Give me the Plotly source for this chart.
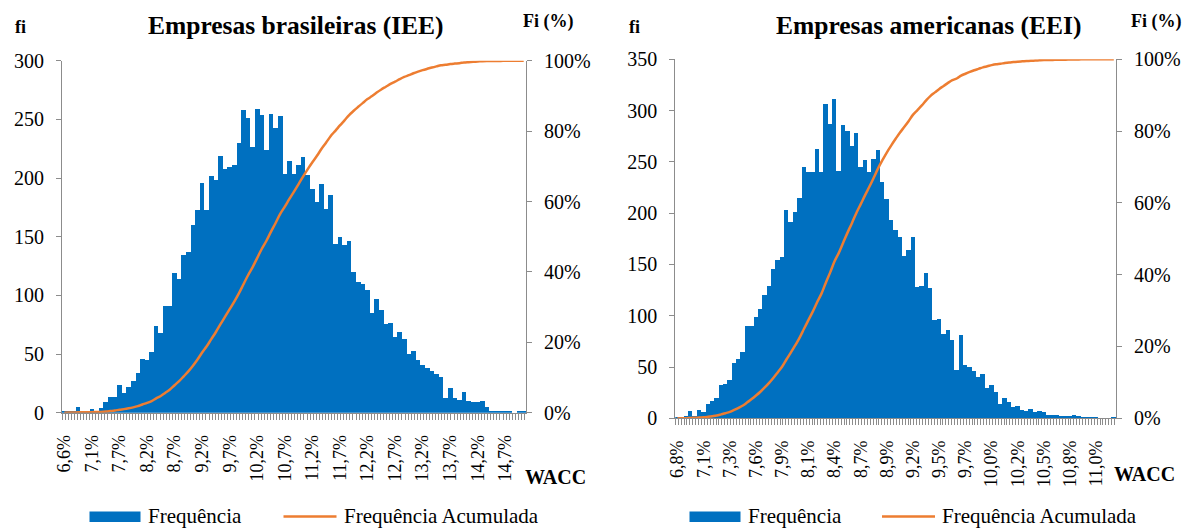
import numpy as np
import plotly.graph_objects as go

# rótulos do eixo x (um a cada 6 classes)
ticks_br = ["6,6%", "7,1%", "7,7%", "8,2%", "8,7%", "9,2%", "9,7%", "10,2%", "10,7%",
            "11,2%", "11,7%", "12,2%", "12,7%", "13,2%", "13,7%", "14,2%", "14,7%"]
ticks_us = ["6,8%", "7,1%", "7,3%", "7,6%", "7,9%", "8,1%", "8,4%", "8,7%", "8,9%",
            "9,2%", "9,5%", "9,7%", "10,0%", "10,2%", "10,5%", "10,8%", "11,0%"]

# frequências por classe
freq_br = [1, 2, 2, 5, 1, 2, 3, 2, 4, 9, 14, 14, 24, 17, 22, 27, 34, 46, 45, 52,
           74, 68, 91, 91, 119, 114, 135, 137, 160, 173, 196, 173, 202, 199, 219, 208, 210, 211, 230, 258,
           251, 227, 259, 254, 224, 255, 243, 253, 204, 215, 204, 211, 218, 203, 191, 180, 195, 174, 186, 144,
           150, 143, 147, 120, 112, 110, 105, 85, 97, 88, 76, 77, 65, 69, 63, 50, 53, 45, 41, 38,
           36, 33, 31, 13, 21, 13, 11, 18, 10, 9, 9, 10, 5, 1, 1, 1, 2, 1, 0, 1, 1]
freq_us = [1, 1, 2, 7, 2, 8, 6, 14, 17, 20, 32, 33, 37, 54, 58, 64, 90, 90, 99, 106,
           120, 129, 145, 154, 157, 203, 191, 201, 215, 245, 240, 240, 262, 240, 306, 287, 311, 241, 286, 280,
           265, 278, 245, 252, 240, 253, 261, 230, 214, 193, 183, 177, 158, 164, 177, 128, 129, 141, 127, 96,
           97, 82, 86, 76, 47, 81, 52, 50, 46, 40, 43, 29, 32, 25, 14, 20, 16, 11, 12, 8,
           7, 9, 6, 7, 6, 3, 3, 3, 2, 2, 2, 3, 2, 1, 1, 1, 1, 0, 0, 0, 1]

BLUE = "#0070C0"
ORANGE = "#ED7D31"
GRAY = "#8C8C8C"
FONT = "Liberation Serif, Times New Roman, serif"
W, H = 1201, 529


def px(x):
    return x / W


def py(y):
    return 1 - y / H


fig = go.Figure()

for freq, xa, ya, ya2 in [(freq_br, "x", "y", "y2"), (freq_us, "x2", "y3", "y4")]:
    idx = np.arange(len(freq))
    cum = np.cumsum(freq) / np.sum(freq)
    fig.add_trace(go.Bar(x=idx, y=freq, marker=dict(color=BLUE, line=dict(width=0)),
                         xaxis=xa, yaxis=ya, showlegend=False))
    fig.add_trace(go.Scatter(x=idx, y=cum, mode="lines", line=dict(color=ORANGE, width=2.5, shape="spline"),
                             xaxis=xa, yaxis=ya2, showlegend=False))


def xaxis_cfg(dom, ticktext, anchor):
    n = len(ticktext)
    return dict(domain=dom, anchor=anchor, range=[-0.5, 100.5], automargin=False,
                tickmode="array", tickvals=[6 * i for i in range(n)], ticktext=ticktext,
                tickangle=-90, ticks="", ticklabelstandoff=14,
                tickfont=dict(family=FONT, size=18, color="black"),
                minor=dict(ticks="outside", ticklen=6, tickcolor=GRAY, tickmode="linear",
                           tick0=-0.5, dtick=2 / 3, showgrid=False),
                showline=True, linecolor=GRAY, linewidth=1, showgrid=False, zeroline=False)


def yaxis_cfg(dom, rng, dtick, anchor, side="left", pct=False, overlay=None):
    d = dict(domain=dom, anchor=anchor, range=rng, dtick=dtick, side=side, automargin=False,
             ticks="outside", ticklen=5, tickcolor=GRAY, ticklabelstandoff=8,
             tickfont=dict(family=FONT, size=20, color="black"),
             showline=True, linecolor=GRAY, linewidth=1, showgrid=False, zeroline=False)
    if pct:
        d["tickformat"] = ".0%"
    if overlay:
        d["overlaying"] = overlay
    return d


dom1x = [px(62), px(526)]
dom1y = [py(412.7), py(60.7)]
dom2x = [px(675.3), px(1116)]
dom2y = [py(418.3), py(59.2)]

fig.update_layout(
    width=W, height=H,
    margin=dict(l=0, r=0, t=0, b=0, pad=0, autoexpand=False),
    paper_bgcolor="white", plot_bgcolor="white",
    bargap=0,
    font=dict(family=FONT, color="black"),
    xaxis=xaxis_cfg(dom1x, ticks_br, "y"),
    yaxis=yaxis_cfg(dom1y, [0, 300], 50, "x"),
    yaxis2=yaxis_cfg(dom1y, [0, 1], 0.2, "x", side="right", pct=True, overlay="y"),
    xaxis2=xaxis_cfg(dom2x, ticks_us, "y3"),
    yaxis3=yaxis_cfg(dom2y, [0, 350], 50, "x2"),
    yaxis4=yaxis_cfg(dom2y, [0, 1], 0.2, "x2", side="right", pct=True, overlay="y3"),
)

ann = []


def text(x, y, s, size, bold=False, xanchor="center"):
    ann.append(dict(x=px(x), y=py(y), xref="paper", yref="paper", text=f"<b>{s}</b>" if bold else s,
                    showarrow=False, xanchor=xanchor, yanchor="middle",
                    font=dict(family=FONT, size=size, color="black")))


text(295.5, 25, "Empresas brasileiras (IEE)", 25.5, True)
text(928.5, 25, "Empresas americanas (EEI)", 25.5, True)
text(13, 27, "fi", 18, True, "left")
text(627, 27, "fi", 18, True, "left")
text(521, 21, "Fi (%)", 18, True, "left")
text(1129, 21, "Fi (%)", 18, True, "left")
text(523, 477, "WACC", 20, True, "left")
text(1112, 474, "WACC", 20, True, "left")

shapes = []
for rx, lx in [(89.5, 283.5), (689.5, 882)]:
    shapes.append(dict(type="rect", xref="paper", yref="paper", x0=px(rx), x1=px(rx + 51),
                       y0=py(522), y1=py(511.5), fillcolor=BLUE, line=dict(width=0)))
    shapes.append(dict(type="line", xref="paper", yref="paper", x0=px(lx), x1=px(lx + 53),
                       y0=py(516.5), y1=py(516.5), line=dict(color=ORANGE, width=2.5)))
text(145.5, 516, "Frequência", 21, False, "left")
text(341.5, 516, "Frequência Acumulada", 21, False, "left")
text(745.5, 516, "Frequência", 21, False, "left")
text(939.5, 516, "Frequência Acumulada", 21, False, "left")

fig.update_layout(annotations=ann, shapes=shapes)

# a página padrão tem margem de 8px no body
fig.write_html("out.html", config={"displayModeBar": False},
               post_script="document.body.style.margin='0';document.body.style.overflow='hidden';")
